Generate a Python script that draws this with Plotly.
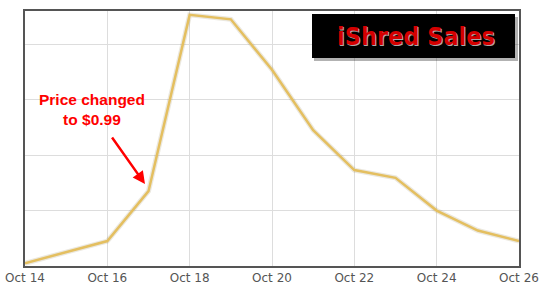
import plotly.graph_objects as go

dates = ["2009-10-14", "2009-10-15", "2009-10-16", "2009-10-17", "2009-10-18",
         "2009-10-19", "2009-10-20", "2009-10-21", "2009-10-22", "2009-10-23",
         "2009-10-24", "2009-10-25", "2009-10-26"]
sales = [0.05, 0.25, 0.45, 1.35, 4.53, 4.45, 3.54, 2.45, 1.73, 1.59, 1.0, 0.64, 0.45]

title_text = "iShred Sales"
note_text = "Price changed<br>to $0.99"

W, H = 543, 290
ml, mr, mt, mb = 25, 24, 11, 24
pw, ph = W - ml - mr, H - mt - mb


def px(x):
    return (x - ml) / pw


def py(y):
    return (H - mb - y) / ph


fig = go.Figure()
# soft shadow under the line
fig.add_trace(go.Scatter(x=dates, y=sales, mode="lines",
                         line=dict(color="rgba(120,100,40,0.15)", width=5),
                         hoverinfo="skip", showlegend=False))
fig.add_trace(go.Scatter(x=dates, y=sales, mode="lines",
                         line=dict(color="#E4BF60", width=2.5),
                         showlegend=False))

# title box shadow + box
fig.add_shape(type="rect", xref="paper", yref="paper",
              x0=px(314), x1=px(518), y0=py(61), y1=py(17),
              fillcolor="rgba(0,0,0,0.3)", line=dict(width=0), layer="above")
fig.add_shape(type="rect", xref="paper", yref="paper",
              x0=px(312), x1=px(515), y0=py(58), y1=py(14),
              fillcolor="#000000", line=dict(width=0), layer="above")
fig.add_annotation(xref="paper", yref="paper", x=px(416), y=py(36),
                   xanchor="center", yanchor="middle",
                   text="<b>" + title_text + "</b>", showarrow=False,
                   font=dict(family="DejaVu Sans Condensed, sans-serif",
                             size=25, color="#D40000",
                             shadow="1px 1px 0px #aaaaaa"))

# price change note + arrow
fig.add_annotation(xref="paper", yref="paper", x=px(92), y=py(110),
                   xanchor="center", yanchor="middle",
                   text="<b>" + note_text + "</b>", showarrow=False,
                   font=dict(family="Liberation Sans, Arial, sans-serif", size=15.5, color="#FF0000"))
fig.add_annotation(xref="paper", yref="paper", x=px(145), y=py(184),
                   ax=-34, ay=-48, axref="pixel", ayref="pixel",
                   text="", showarrow=True, arrowhead=2, arrowsize=1,
                   arrowwidth=2.5, arrowcolor="#FF0000")

fig.update_layout(
    width=W, height=H,
    margin=dict(l=ml, r=mr, t=mt, b=mb, autoexpand=False),
    paper_bgcolor="white", plot_bgcolor="white",
    xaxis=dict(type="date", range=["2009-10-14", "2009-10-26"],
               tickformat="%b %d", dtick=2 * 86400000, tick0="2009-10-14",
               showgrid=True, gridcolor="#DDDDDD", gridwidth=1,
               showline=True, linecolor="#555555", linewidth=2, mirror=True,
               ticks="", tickfont=dict(family="DejaVu Sans, sans-serif", size=12, color="#555555"),
               zeroline=False, fixedrange=True, automargin=False),
    yaxis=dict(range=[0, 4.6], dtick=1, showticklabels=False,
               showgrid=True, gridcolor="#DDDDDD", gridwidth=1,
               showline=True, linecolor="#555555", linewidth=2, mirror=True,
               ticks="", zeroline=False, fixedrange=True, automargin=False),
)

fig.write_html("out.html")
